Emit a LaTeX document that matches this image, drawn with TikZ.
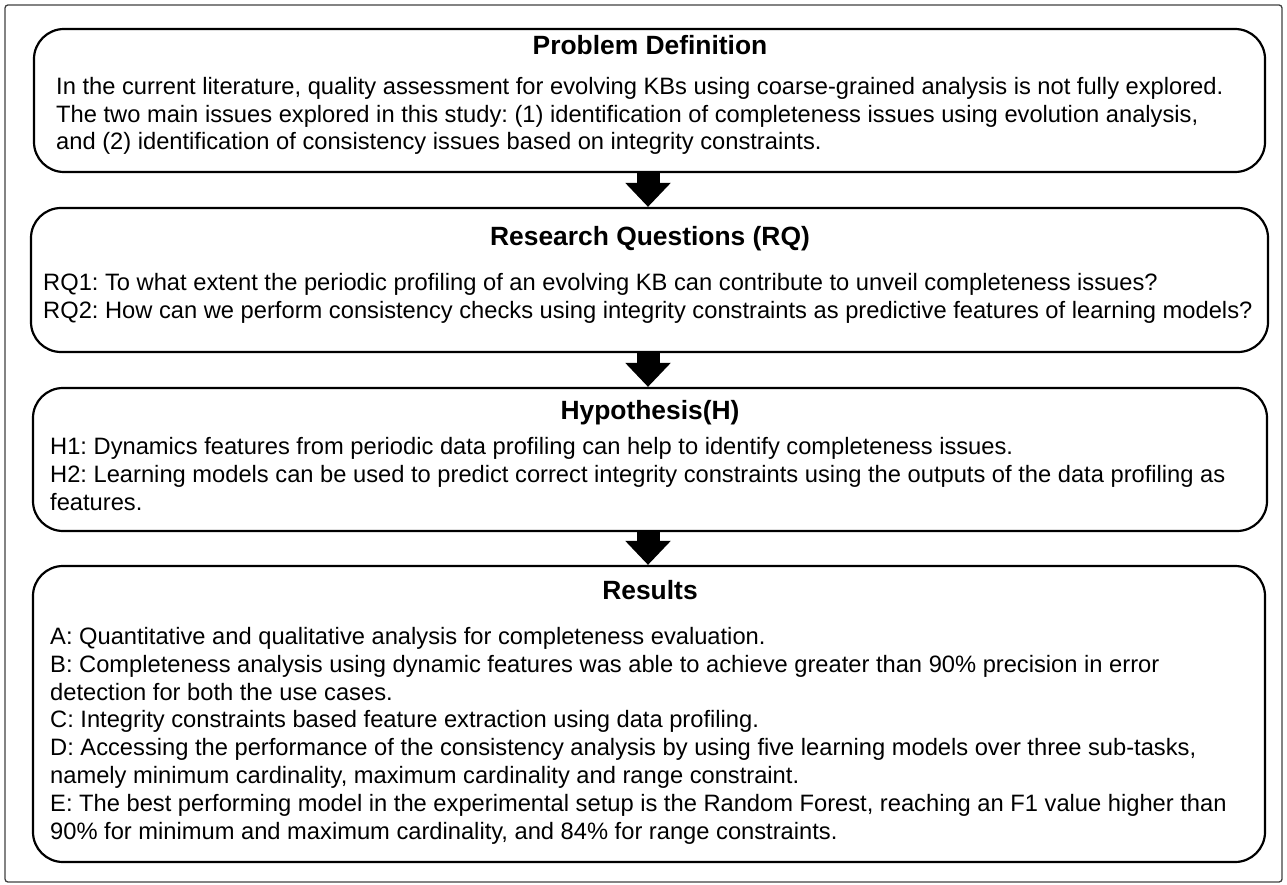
\documentclass[tikz,border=0pt]{standalone}
\usepackage{fontspec}
\setmainfont{Liberation Sans}
\frenchspacing
\usetikzlibrary{arrows.meta}
\begin{document}
\begin{tikzpicture}[x=1pt,y=-1pt]
        \tikzstyle{panel}=[draw,line width=2.2pt,rounded corners=30pt,inner sep=0pt];
        \tikzstyle{head}=[anchor=base,font=\fontsize{26.4}{30}\selectfont\bfseries];
        \tikzstyle{body}=[anchor=base west,align=left,inner sep=0pt,font=\fontsize{23.7}{27.8}\selectfont];
        \tikzstyle{bigarrow}=[line width=23pt,-{Triangle[width=44pt,length=24pt]}];
        \useasboundingbox (0,0) rectangle (1287,885);
        %\node (name) [panel, minimum width=..] at (x,y) {};
        %text nodes sit on the baseline of their last line
        \draw[black!75,line width=1.3pt,rounded corners=3pt] (5,5) rectangle (1282,882);
        \node (prob) [panel,minimum width=1231pt,minimum height=143pt] at (649.5,100.5) {};
        \node (rq) [panel,minimum width=1237pt,minimum height=144pt] at (649.5,280) {};
        \node (hyp) [panel,minimum width=1234pt,minimum height=143pt] at (650,459.5) {};
        \node (res) [panel,minimum width=1232pt,minimum height=296pt] at (649,714) {};
        \node (probtitle) [head] at (650,55) {Problem Definition};
        \node (rqtitle) [head] at (650,246) {Research Questions (RQ)};
        \node (hyptitle) [head] at (650,419) {Hypothesis(H)};
        \node (restitle) [head] at (650,599) {Results};
        \node (probtext) [body] at (56,150) {In the current literature, quality assessment for evolving KBs using coarse-grained analysis is not fully explored.\\
        The two main issues explored in this study: (1) identification of completeness issues using evolution analysis,\\
        and (2) identification of consistency issues based on integrity constraints.};
        \node (rqtext) [body] at (43,318) {RQ1: To what extent the periodic profiling of an evolving KB can contribute to unveil completeness issues?\\
        RQ2: How can we perform consistency checks using integrity constraints as predictive features of learning models?};
        \node (hyptext) [body] at (50,510) {H1: Dynamics features from periodic data profiling can help to identify completeness issues.\\
        H2: Learning models can be used to predict correct integrity constraints using the outputs of the data profiling as\\
        features.};
        \node (restext) [body] at (50,839) {A: Quantitative and qualitative analysis for completeness evaluation.\\
        B: Completeness analysis using dynamic features was able to achieve greater than 90\% precision in error\\
        detection for both the use cases.\\
        C: Integrity constraints based feature extraction using data profiling.\\
        D: Accessing the performance of the consistency analysis by using five learning models over three sub-tasks,\\
        namely minimum cardinality, maximum cardinality and range constraint.\\
        E: The best performing model in the experimental setup is the Random Forest, reaching an F1 value higher than\\
        90\% for minimum and maximum cardinality, and 84\% for range constraints.};
        \draw[bigarrow] ([xshift=-1.5pt]prob.south) -- ([xshift=-1.5pt]rq.north);
        \draw[bigarrow] ([xshift=-1.5pt]rq.south) -- ([xshift=-2pt]hyp.north);
        \draw[bigarrow] ([xshift=-2pt]hyp.south) -- ([xshift=-1pt]res.north);
\end{tikzpicture}
\end{document}
